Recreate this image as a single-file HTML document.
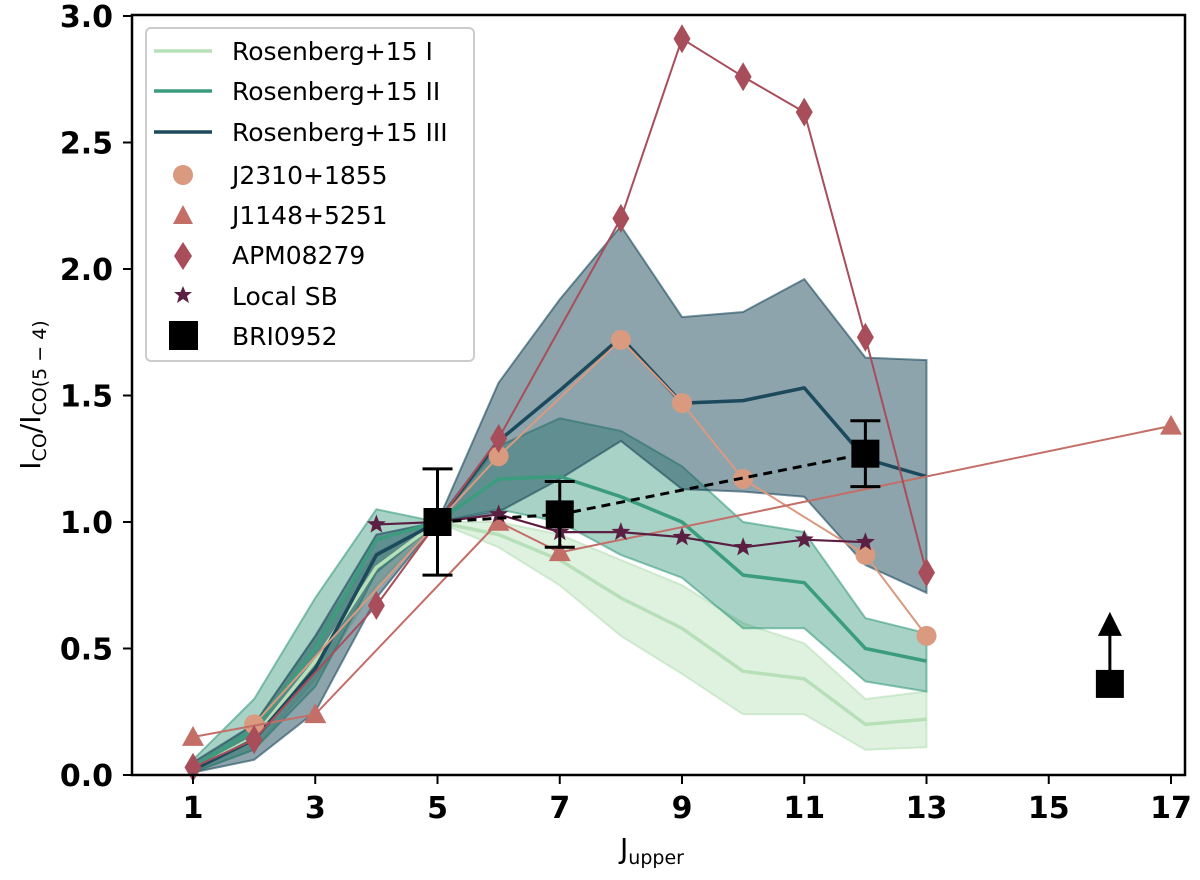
<!DOCTYPE html>
<html><head><meta charset="utf-8"><style>
body{margin:0;background:#fff}
svg text{font-family:"DejaVu Sans","Liberation Sans",sans-serif}
</style></head><body>
<svg id="chart" width="1200" height="875" xmlns="http://www.w3.org/2000/svg">
<g id="plot"></g>
</svg>
<script>
const J = [1,2,3,4,5,6,7,8,9,10,11,12,13];
const r1 = [0.02,0.15,0.45,0.82,1.0,0.95,0.85,0.7,0.58,0.41,0.38,0.2,0.22];
const r1Up = [0.04,0.2,0.55,0.88,1.0,1.0,0.95,0.85,0.75,0.6,0.52,0.3,0.33];
const r1Lo = [0.01,0.1,0.38,0.75,1.0,0.9,0.75,0.55,0.4,0.24,0.24,0.1,0.11];
const r2 = [0.03,0.18,0.5,0.93,1.0,1.17,1.18,1.1,1.0,0.79,0.76,0.5,0.45];
const r2Up = [0.06,0.3,0.7,1.05,1.0,1.3,1.41,1.36,1.22,1.0,0.96,0.62,0.56];
const r2Lo = [0.01,0.1,0.35,0.8,1.0,1.05,1.0,0.87,0.78,0.58,0.58,0.37,0.33];
const r3 = [0.02,0.14,0.42,0.87,1.0,1.32,1.52,1.73,1.47,1.48,1.53,1.25,1.18];
const r3Up = [0.05,0.2,0.55,0.95,1.0,1.55,1.88,2.17,1.81,1.83,1.96,1.65,1.64];
const r3Lo = [0.01,0.06,0.25,0.7,1.0,1.04,1.17,1.32,1.13,1.12,1.10,0.83,0.72];
const j2310X = [2,5,6,8,9,10,12,13];
const j2310Y = [0.2,1.0,1.26,1.72,1.47,1.17,0.87,0.55];
const j1148X = [1,3,6,7,17];
const j1148Y = [0.15,0.24,1.0,0.88,1.38];
const apmX = [1,2,4,5,6,8,9,10,11,12,13];
const apmY = [0.03,0.14,0.67,1.0,1.33,2.2,2.91,2.76,2.62,1.73,0.8];
const sbX = [4,5,6,7,8,9,10,11,12];
const sbY = [0.99,1.0,1.03,0.96,0.96,0.94,0.9,0.93,0.92];
const briX = [5,7,12];
const briY = [1.0,1.03,1.27];
const briErr = [0.21,0.13,0.13];
const limX = [16];
const limY = [0.36];
const xTicks = [1,3,5,7,9,11,13,15,17];
const yTicks = [0.0,0.5,1.0,1.5,2.0,2.5,3.0];

const sx = v => 193 + (v-1)*61.125;
const sy = v => 775 - v*253;
const NS = "http://www.w3.org/2000/svg";
const g = document.getElementById('plot');
function mk(tag, attrs, parent){const e=document.createElementNS(NS,tag);for(const k in attrs)e.setAttribute(k,attrs[k]);(parent||g).appendChild(e);return e;}
const pts=(xs,ys)=>xs.map((x,i)=>sx(x).toFixed(1)+','+sy(ys[i]).toFixed(1)).join(' ');

function band(up,lo,col,name,op){
  const xs=J.concat(J.slice().reverse()), ys=up.concat(lo.slice().reverse());
  const p=mk('polygon',{points:pts(xs,ys),fill:col,'fill-opacity':op,stroke:col,'stroke-opacity':0.6,'stroke-width':2});
  
  
}
function line(xs,ys,col,w,name,dash){
  const p=mk('polyline',{points:pts(xs,ys),fill:'none',stroke:col,'stroke-width':w,'stroke-linejoin':'round'});
  if(dash)p.setAttribute('stroke-dasharray',dash);
  
  
}
band(r1Up,r1Lo,'#b8e0b8','rosenberg-i-band',0.45);
band(r2Up,r2Lo,'#3b9c7e','rosenberg-ii-band',0.45);
band(r3Up,r3Lo,'#1c4a5c','rosenberg-iii-band',0.5);
line(J,r1,'#b8e0b8',3.5,'rosenberg-i-line');
line(J,r2,'#3b9c7e',3.5,'rosenberg-ii-line');
line(J,r3,'#1c4a5c',3.5,'rosenberg-iii-line');

function circle(x,y,c,r){return mk('circle',{cx:x,cy:y,r:r,fill:c});}
function tri(x,y,c,s){return mk('polygon',{points:`${x},${y-s} ${x-s},${y+s*0.8} ${x+s},${y+s*0.8}`,fill:c});}
function dia(x,y,c,s){return mk('polygon',{points:`${x},${y-s*1.45} ${x+s*0.85},${y} ${x},${y+s*1.45} ${x-s*0.85},${y}`,fill:c});}
function star(x,y,c,s){let p=[];for(let i=0;i<10;i++){const r=i%2?s*0.42:s;const a=-Math.PI/2+i*Math.PI/5;p.push((x+r*Math.cos(a)).toFixed(1)+','+(y+r*Math.sin(a)).toFixed(1));}return mk('polygon',{points:p.join(' '),fill:c});}

line(j2310X,j2310Y,'#d99a80',2,'j2310-line');
j2310X.forEach((x,i)=>{const e=circle(sx(x),sy(j2310Y[i]),'#d99a80',10);

});
line(j1148X,j1148Y,'#c46e68',2,'j1148-line');
j1148X.forEach((x,i)=>{const e=tri(sx(x),sy(j1148Y[i]),'#c46e68',11);

});
line(apmX,apmY,'#a84d5a',2,'apm08279-line');
apmX.forEach((x,i)=>{const e=dia(sx(x),sy(apmY[i]),'#a84d5a',10);

});
line(sbX,sbY,'#5a1f42',2.2,'local-sb-line');
sbX.forEach((x,i)=>{const e=star(sx(x),sy(sbY[i]),'#5a1f42',10);

});

line(briX,briY,'#000',3,'bri0952-line','9,6');
briX.forEach((x,i)=>{
  const X=sx(x),y1=sy(briY[i]+briErr[i]),y2=sy(briY[i]-briErr[i]);
  const eb=mk('path',{d:`M${X},${y1}V${y2}M${X-15},${y1}H${X+15}M${X-15},${y2}H${X+15}`,stroke:'#000','stroke-width':3,fill:'none'});
  
  
  const r=mk('rect',{x:X-14,y:sy(briY[i])-14,width:28,height:28,fill:'#000'});
  
  
});
limX.forEach((x,i)=>{
  const X=sx(x),Y=sy(limY[i]);
  const a=mk('path',{d:`M${X},${Y}V${Y-55}`,stroke:'#000','stroke-width':3});
  
  
  mk('polygon',{points:`${X},${Y-72} ${X-12},${Y-48} ${X+12},${Y-48}`,fill:'#000'});
  const r=mk('rect',{x:X-14,y:Y-14,width:28,height:28,fill:'#000'});
  
  
});

const ax=mk('path',{d:'M132,15V775H1185V15Z',fill:'none',stroke:'#000','stroke-width':2.5});


xTicks.forEach(t=>{
  mk('line',{x1:sx(t),x2:sx(t),y1:775,y2:784,stroke:'#000','stroke-width':2});
  const e=mk('text',{x:sx(t),y:818,'text-anchor':'middle','font-size':30,'font-weight':'bold'});e.textContent=t;
  
  
});
yTicks.forEach(t=>{
  mk('line',{x1:123,x2:132,y1:sy(t),y2:sy(t),stroke:'#000','stroke-width':2});
  const e=mk('text',{x:113,y:sy(t)+11,'text-anchor':'end','font-size':30,'font-weight':'bold'});e.textContent=t.toFixed(1);
  
  
});
</script>
<svg style="position:absolute;left:0;top:0" width="1200" height="875">
<text x="652" y="858" text-anchor="middle" font-size="28" font-family="DejaVu Sans, sans-serif">J<tspan font-size="19" dy="6">upper</tspan></text>
<text transform="translate(40,395) rotate(-90)" text-anchor="middle" font-size="28" font-family="DejaVu Sans, sans-serif">I<tspan font-size="19" dy="6">CO</tspan><tspan dy="-6">/I</tspan><tspan font-size="19" dy="6">CO(5 − 4)</tspan></text>
<g font-family="DejaVu Sans, sans-serif" font-size="25">
<rect x="146" y="28" width="328" height="333" rx="5" fill="#fff" fill-opacity="0.85" stroke="#ccc" stroke-width="2"/>
<line x1="154" x2="212" y1="51" y2="51" stroke="#b8e0b8" stroke-width="3.5"/><text x="232" y="60">Rosenberg+15 I</text>
<line x1="154" x2="212" y1="91" y2="91" stroke="#3b9c7e" stroke-width="3.5"/><text x="232" y="100">Rosenberg+15 II</text>
<line x1="154" x2="212" y1="132" y2="132" stroke="#1c4a5c" stroke-width="3.5"/><text x="232" y="141">Rosenberg+15 III</text>
<circle cx="183" cy="175" r="10" fill="#d99a80"/><text x="232" y="184">J2310+1855</text>
<polygon points="183,205 173,224 193,224" fill="#c46e68"/><text x="232" y="224">J1148+5251</text>
<polygon points="183,242 192,256 183,270 174,256" fill="#a84d5a"/><text x="232" y="264">APM08279</text>
<polygon points="183,286 185.5,292 192,292 187,296 189,303 183,299 177,303 179,296 174,292 180.5,292" fill="#5a1f42"/><text x="232" y="305">Local SB</text>
<rect x="169" y="321" width="29" height="29" fill="#000"/><text x="232" y="345">BRI0952</text>
</g>
</svg>
</body></html>
